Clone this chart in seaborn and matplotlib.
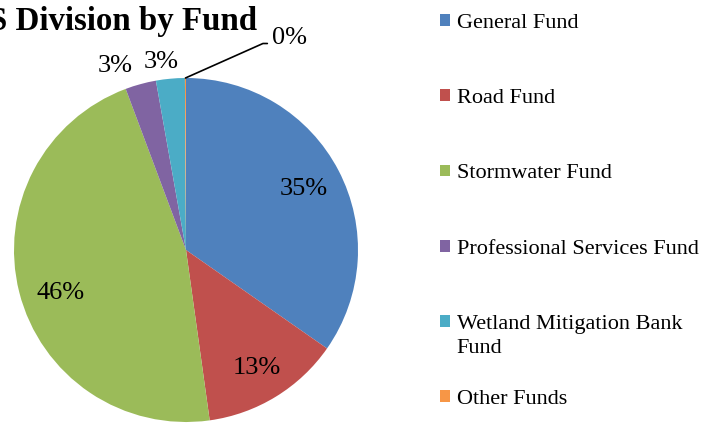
import numpy as np
import matplotlib
matplotlib.use("Agg")
import matplotlib.pyplot as plt
import seaborn as sns

# chart data
funds = ["General Fund", "Road Fund", "Stormwater Fund",
         "Professional Services Fund", "Wetland Mitigation Bank", "Other Funds"]
wrap_line = "Fund"  # second line of the wetland entry
shares = [34.7, 13.1, 46.5, 2.9, 2.7, 0.1]
pct_labels = ["35%", "13%", "46%", "3%", "3%", "0%"]
title = "S Division by Fund"

sns.set_theme(style="white")
plt.rcParams["font.family"] = ["Liberation Serif", "DejaVu Serif"]
plt.rcParams["text.color"] = "black"

colors = sns.color_palette(["#4F81BD", "#C0504D", "#9BBB59", "#8064A2", "#4BACC6", "#F79646"])

W, H = 717, 424
fig = plt.figure(figsize=(W / 100, H / 100), dpi=100)
ax = fig.add_axes([0, 0, 1, 1])

cx, cy, rad = 186, 174, 172
wedges, _ = ax.pie(shares, colors=colors, startangle=90, counterclock=False,
                   center=(cx, cy), radius=rad, frame=True,
                   wedgeprops=dict(linewidth=0))
ax.set_xlim(0, W)
ax.set_ylim(0, H)
ax.axis("off")

# inside labels: (distance as fraction of radius, angle tweak in degrees)
inside = [(0.77, 0), (0.80, -0.5), (0.77, 4.5)]
for w, lab, (d, da) in zip(wedges[:3], pct_labels[:3], inside):
    mid = np.deg2rad((w.theta1 + w.theta2) / 2 + da)
    ax.text(cx + d * rad * np.cos(mid), cy + d * rad * np.sin(mid), lab,
            ha="center", va="center", fontsize=19)

# small slices labelled just outside the rim
ax.text(115, 358, pct_labels[3], ha="center", va="center", fontsize=19)
ax.text(161, 362, pct_labels[4], ha="center", va="center", fontsize=19)

# leader line for the empty slice
w = wedges[5]
mid = np.deg2rad((w.theta1 + w.theta2) / 2)
ax.annotate(pct_labels[5],
            xy=(cx + rad * np.cos(mid), cy + rad * np.sin(mid)),
            xytext=(272, 386), ha="left", va="center", fontsize=19,
            arrowprops=dict(arrowstyle="-", color="black", lw=1.2,
                            connectionstyle="angle,angleA=0,angleB=24,rad=0",
                            relpos=(0, 0.25), shrinkA=1, shrinkB=0))

# title is clipped at the left edge in the original
ax.text(257, 424 - 30, title, ha="right", va="baseline",
        fontsize=23.7, fontweight="bold")

leg = fig.legend(wedges, funds, loc="upper left",
                 bbox_to_anchor=(440 / W, 1 - 14 / H), frameon=False,
                 fontsize=16, handlelength=0.45, handleheight=0.45,
                 handletextpad=0.3, labelspacing=2.53,
                 borderpad=0, borderaxespad=0, labelcolor="black")

# wrapped second line of the wetland entry, like the original legend
fig.canvas.draw()
bb = leg.get_texts()[4].get_window_extent().transformed(fig.transFigure.inverted())
fig.text(bb.x0, bb.y0 - 24 / H, wrap_line, ha="left", va="bottom", fontsize=16)

fig.savefig("out.png", dpi=100)
plt.close(fig)
